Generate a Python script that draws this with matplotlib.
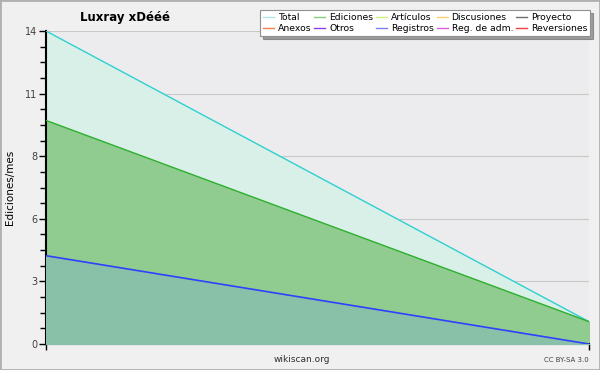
import matplotlib
matplotlib.use('Agg')
import matplotlib.pyplot as plt
from matplotlib.lines import Line2D
from matplotlib.patches import Rectangle

# datos
meses = [0, 1]
total = [14, 1]
ediciones = [10.0, 1]
registros = [3.95, 0]

ticks_y = [0, 2.8, 5.6, 8.4, 11.2, 14]
ticks_y_labels = ['0', '3', '6', '8', '11', '14']

leyenda_nombres = ['Total', 'Ediciones', 'Artículos', 'Discusiones', 'Proyecto',
                   'Anexos', 'Otros', 'Registros', 'Reg. de adm.', 'Reversiones']
leyenda_colores = ['#b0e8e8', '#88cc88', '#d0f080', '#ffd070', '#707070',
                   '#f08050', '#9040e0', '#8080ff', '#e060e0', '#f04040']

fig = plt.figure(figsize=(6, 3.7), dpi=100, facecolor='#f0f0f0')
fig.patches.append(Rectangle((0, 0), 1, 1, transform=fig.transFigure, fill=False,
                             edgecolor='#b0b0b0', linewidth=2))
ax = fig.add_axes([46/600, 26/370, 543/600, 313/370])
ax.set_facecolor('#ececee')

# áreas
ax.fill_between(meses, 0, total, color='#d8f0e8', zorder=1)
ax.plot(meses, total, color='#30d0d0', lw=1, zorder=4)
ax.fill_between(meses, 0, ediciones, color='#90cc90', zorder=2)
ax.plot(meses, ediciones, color='#30b030', lw=1, zorder=4)
ax.fill_between(meses, 0, registros, color='#88c0a8', zorder=3)
ax.plot(meses, registros, color='#3040ff', lw=1.2, zorder=4)

ax.set_xlim(0, 1)
ax.set_ylim(0, 14)
ax.set_yticks(ticks_y)
ax.set_yticklabels(ticks_y_labels, fontsize=7, color='#404040')
ax.set_yticks([i * 0.7 for i in range(21)], minor=True)
ax.tick_params(axis='y', which='major', length=5, width=1, pad=1)
ax.tick_params(axis='y', which='minor', length=4, width=1)
ax.set_xticks([0, 1])
ax.set_xticklabels(['', ''])
ax.tick_params(axis='x', length=4, width=1, direction='out')
ax.grid(axis='y', which='major', color='#c8c8c8', lw=0.8, zorder=0)
ax.set_axisbelow(True)
for lado in ['top', 'right']:
    ax.spines[lado].set_visible(False)
ax.spines['left'].set_linewidth(1.5)
ax.spines['bottom'].set_linewidth(1.5)
ax.set_ylabel('Ediciones/mes', fontsize=7.5)
ax.yaxis.set_label_coords(-0.058, 0.5)

fig.text(125/600, 1 - 18/370, 'Luxray xDééé', fontsize=8.5, fontweight='bold',
         ha='center', va='center')
fig.text(302/600, 1 - 360/370, 'wikiscan.org', fontsize=6.5, ha='center', va='center',
         color='#303030')
fig.text(589/600, 1 - 360/370, 'CC BY-SA 3.0', fontsize=5, ha='right', va='center',
         color='#404040')

# leyenda (orden por filas)
orden = []
for c in range(5):
    orden += [c, c + 5]
handles = [Line2D([], [], color=leyenda_colores[i], lw=1) for i in orden]
labels = [leyenda_nombres[i] for i in orden]
leg = fig.legend(handles, labels, ncol=5, loc='upper right',
                 bbox_to_anchor=(590/600, 1 - 10/370), fontsize=6.7, frameon=True,
                 fancybox=False, shadow=True, handlelength=1.2, handletextpad=0.4,
                 columnspacing=0.3, labelspacing=0.25, borderpad=0.3,
                 borderaxespad=0)
leg.get_frame().set_edgecolor('#909090')
leg.get_frame().set_linewidth(0.8)

plt.savefig('out.png', dpi=100, facecolor=fig.get_facecolor())
